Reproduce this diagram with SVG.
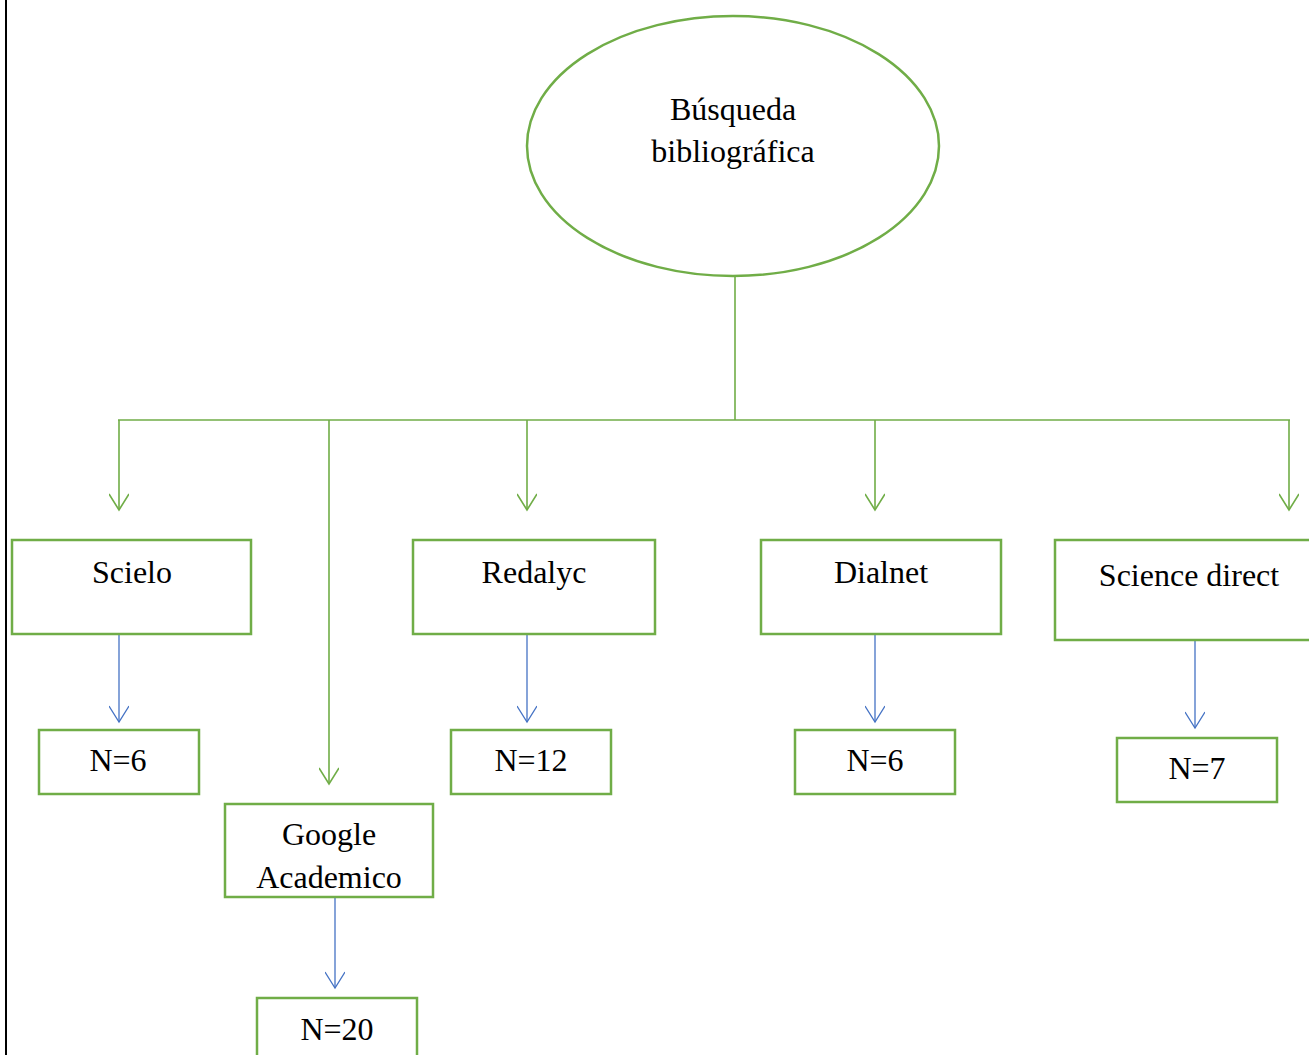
<svg xmlns="http://www.w3.org/2000/svg" width="1309" height="1055" viewBox="0 0 1309 1055">
<defs>
<style>
.n{fill:#fff;stroke:#70AD47;stroke-width:2.5}
.t{font-family:"Liberation Serif","Times New Roman",serif;font-size:32px;fill:#000;text-anchor:middle}
.g{stroke:#70AD47;stroke-width:1.6;fill:none}
.b{stroke:#4472C4;stroke-width:1.3;fill:none}
</style>
<marker id="ag" markerWidth="24" markerHeight="20" refX="17" refY="10" orient="auto" markerUnits="userSpaceOnUse"><path d="M1,0 L17,10 L1,20" fill="none" stroke="#70AD47" stroke-width="1.6"/></marker>
<marker id="ab" markerWidth="24" markerHeight="20" refX="17" refY="10" orient="auto" markerUnits="userSpaceOnUse"><path d="M1,0 L17,10 L1,20" fill="none" stroke="#4472C4" stroke-width="1.3"/></marker>
</defs>
<rect width="1309" height="1055" fill="#fff"/>
<line x1="6" y1="0" x2="6" y2="1055" stroke="#000" stroke-width="2"/>
<g id="connectors">
<line class="g" x1="735" y1="276" x2="735" y2="420"/>
<line class="g" x1="118" y1="420" x2="1290" y2="420"/>
<line class="g" x1="119" y1="420" x2="119" y2="510" marker-end="url(#ag)"/>
<line class="g" x1="329" y1="420" x2="329" y2="784" marker-end="url(#ag)"/>
<line class="g" x1="527" y1="420" x2="527" y2="510" marker-end="url(#ag)"/>
<line class="g" x1="875" y1="420" x2="875" y2="510" marker-end="url(#ag)"/>
<line class="g" x1="1289" y1="420" x2="1289" y2="510" marker-end="url(#ag)"/>
<line class="b" x1="119" y1="634" x2="119" y2="722" marker-end="url(#ab)"/>
<line class="b" x1="527" y1="634" x2="527" y2="722" marker-end="url(#ab)"/>
<line class="b" x1="875" y1="634" x2="875" y2="722" marker-end="url(#ab)"/>
<line class="b" x1="1195" y1="640" x2="1195" y2="728" marker-end="url(#ab)"/>
<line class="b" x1="335" y1="897" x2="335" y2="988" marker-end="url(#ab)"/>
</g>
<g id="root"><ellipse class="n" cx="733" cy="146" rx="206" ry="130"/><text class="t" x="733" y="120">Búsqueda</text><text class="t" x="733" y="162">bibliográfica</text></g>
<g id="scielo"><rect class="n" x="12" y="540" width="239" height="94"/><text class="t" x="132" y="583">Scielo</text></g>
<g id="redalyc"><rect class="n" x="413" y="540" width="242" height="94"/><text class="t" x="534" y="583">Redalyc</text></g>
<g id="dialnet"><rect class="n" x="761" y="540" width="240" height="94"/><text class="t" x="881" y="583">Dialnet</text></g>
<g id="sciencedirect"><rect class="n" x="1055" y="540" width="260" height="100"/><text class="t" x="1189" y="586">Science direct</text></g>
<g id="google"><rect class="n" x="225" y="804" width="208" height="93"/><text class="t" x="329" y="845">Google</text><text class="t" x="329" y="888">Academico</text></g>
<g id="n-scielo"><rect class="n" x="39" y="730" width="160" height="64"/><text class="t" x="118" y="771">N=6</text></g>
<g id="n-redalyc"><rect class="n" x="451" y="730" width="160" height="64"/><text class="t" x="531" y="771">N=12</text></g>
<g id="n-dialnet"><rect class="n" x="795" y="730" width="160" height="64"/><text class="t" x="875" y="771">N=6</text></g>
<g id="n-sciencedirect"><rect class="n" x="1117" y="738" width="160" height="64"/><text class="t" x="1197" y="779">N=7</text></g>
<g id="n-google"><rect class="n" x="257" y="998" width="160" height="70"/><text class="t" x="337" y="1040">N=20</text></g>
</svg>
